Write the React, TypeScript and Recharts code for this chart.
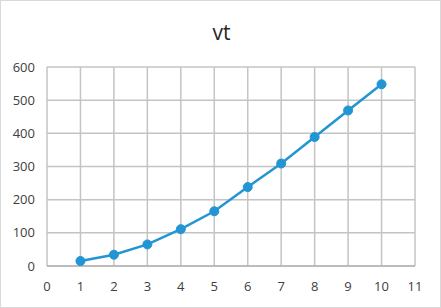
import { CartesianGrid, Line, LineChart, XAxis, YAxis } from "recharts";

const BLUE = "#2196d3";
const GRID = "#c4c4c4";

const xValues = [1, 2, 3, 4, 5, 6, 7, 8, 9, 10];
const vt = [15, 34, 65, 111, 165, 238, 309, 389, 469, 548];
const xTicks = [0, 1, 2, 3, 4, 5, 6, 7, 8, 9, 10, 11];
const yTicks = [0, 100, 200, 300, 400, 500, 600];

const data = xValues.map((x, i) => ({ x, vt: vt[i] }));

const tickStyle = { fontSize: 13, fill: "#404040", fontFamily: "Open Sans, sans-serif" };

export default function App() {
  return (
    <div
      style={{
        position: "fixed",
        left: 0,
        top: 0,
        width: 441,
        height: 308,
        background: "white",
        boxSizing: "border-box",
        border: "1px solid #d9d9d9",
      }}
    >
      <div
        style={{
          position: "absolute",
          left: 0,
          width: 441,
          top: 17,
          textAlign: "center",
          fontFamily: "Open Sans, sans-serif",
          fontSize: 21,
          color: "#262626",
        }}
      >
        vt
      </div>
      <div style={{ position: "absolute", left: -1, top: -1 }}>
        <LineChart width={441} height={308} data={data} margin={{ top: 67, right: 26, bottom: 12, left: 0 }}>
          <CartesianGrid stroke={GRID} strokeWidth={1.5} />
          <XAxis
            type="number"
            dataKey="x"
            domain={[0, 11]}
            ticks={xTicks}
            height={30}
            tickLine={false}
            axisLine={{ stroke: "#a6a6a6" }}
            tickMargin={10}
            tick={tickStyle}
          />
          <YAxis
            domain={[0, 600]}
            ticks={yTicks}
            width={47}
            tickLine={false}
            axisLine={false}
            tickMargin={6}
            tick={tickStyle}
          />
          <Line
            type="linear"
            dataKey="vt"
            stroke={BLUE}
            strokeWidth={2.5}
            dot={{ r: 4.5, fill: BLUE, stroke: BLUE, strokeWidth: 1 }}
            isAnimationActive={false}
          />
        </LineChart>
      </div>
    </div>
  );
}
